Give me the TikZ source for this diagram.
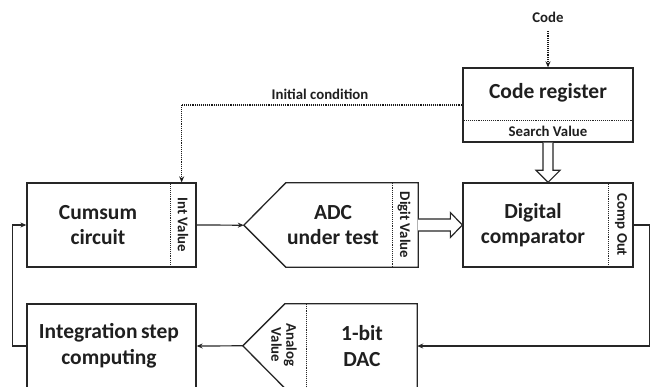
\documentclass[tikz,border=0pt]{standalone}
\usepackage{fontspec}
\setmainfont{Carlito}
\usetikzlibrary{arrows.meta,calc}

\begin{document}
\begin{tikzpicture}[x=1pt,y=-1pt,
  box/.style={draw=black!85, line width=1.3pt, minimum width=170pt, minimum height=84pt, inner sep=0pt},
  body/.style={minimum width=132pt, minimum height=84pt, inner sep=0pt},
  outline/.style={draw=black!85, line width=1.3pt, line join=miter},
  big/.style={font=\bfseries\fontsize{21.5}{25.5}\selectfont, align=center, text=black!88},
  small/.style={font=\bfseries\fontsize{14.8}{15}\selectfont, align=center, text=black!88},
  sep/.style={line width=1pt, dash pattern=on 1pt off 0.9pt, black!85},
  flow/.style={line width=1.2pt, black!85, -{Stealth[length=6pt,width=5pt]}},
  ctrl/.style={line width=1.15pt, dash pattern=on 1pt off 0.9pt, black!90, -{Stealth[length=6pt,width=5pt]}},
  bus/.style={line width=1.2pt, draw=black!85, fill=white, line join=miter},
]
\useasboundingbox (0,0) rectangle (650,387);
\clip (0,0) rectangle (650,387);

% Code register with its search value field
\node[box, minimum height=74pt] (reg) at (548,105) {};
\draw[sep] ($(reg.west)+(0,16)$) -- ($(reg.east)+(0,16)$);
\node[big] (regtxt) at (548,93) {Code register};
\node[small] (regval) at (548,131) {Search Value};
\node[small] (code) at (548,17) {Code};
\draw[ctrl] ($(code.south)+(0,5)$) -- (reg.north);

% Cumsum circuit
\node[box, minimum width=169pt] (cum) at (111.5,225) {};
\draw[sep] ($(cum.north east)+(-26,0)$) -- ($(cum.south east)+(-26,0)$);
\node[big] (cumtxt) at (98,225) {Cumsum\\circuit};
\node[small, rotate=-90] (intv) at (183,225) {Int Value};

% ADC under test (input side drawn as a chevron)
\node[body] (adc) at (352,225) {};
\draw[outline] (adc.north west) -- (adc.north east) -- (adc.south east) -- (adc.south west)
  -- ++(-42,-42) coordinate (adctip) -- cycle;
\draw[sep] ($(adc.north east)+(-26,0)$) -- ($(adc.south east)+(-26,0)$);
\node[big] (adctxt) at (333,225) {ADC\\under test};
\node[small, rotate=-90] (digv) at (404,225) {Digit Value};

% Digital comparator
\node[box] (cmp) at (548,225) {};
\draw[sep] ($(cmp.north east)+(-25,0)$) -- ($(cmp.south east)+(-25,0)$);
\node[big] (cmptxt) at (533,225) {Digital\\comparator};
\node[small, rotate=-90] (cout) at (621,225) {Comp Out};

% Integration step computing
\node[box, minimum width=169pt] (integ) at (111.5,346) {};
\node[big] (integtxt) at (109,346) {Integration\,step\\computing};

% 1-bit DAC (output side drawn as a chevron)
\node[body] (dac) at (351,346) {};
\draw[outline] (dac.north east) -- (dac.north west) -- ++(-42,42) coordinate (dactip)
  -- (dac.south west) -- (dac.south east) -- cycle;
\draw[sep] ($(dac.north west)+(22,0)$) -- ($(dac.south west)+(22,0)$);
\node[big] (dactxt) at (362,346) {1-bit\\DAC};
\node[small, rotate=-90] (anv) at (284,345) {Analog\\Value};

% Initial condition path
\node[small] (init) at (320,94) {Initial condition};
\draw[ctrl] (reg.west) -| ($(cum.north east)+(-15,0)$);

% Wide bus arrows
\draw[bus] ($(reg.south)+(-5,0)$) -- ($(cmp.north)+(-5,-12)$) -- ($(cmp.north)+(-12,-12)$)
  -- (cmp.north) -- ($(cmp.north)+(12,-12)$) -- ($(cmp.north)+(5,-12)$) -- ($(reg.south)+(5,0)$);
\draw[bus] ($(adc.east)+(0,-6)$) -- ($(cmp.west)+(-12,-6)$) -- ($(cmp.west)+(-12,-12.5)$)
  -- (cmp.west) -- ($(cmp.west)+(-12,12.5)$) -- ($(cmp.west)+(-12,6)$) -- ($(adc.east)+(0,6)$);

% Signal flow
\draw[flow] (cum.east) -- (adctip);
\draw[flow] (cmp.east) -- ++(16,0) |- (dac.east);
\draw[flow] (dactip) -- (integ.east);
\draw[flow] (integ.west) -- ++(-14,0) |- (cum.west);
\end{tikzpicture}
\end{document}
